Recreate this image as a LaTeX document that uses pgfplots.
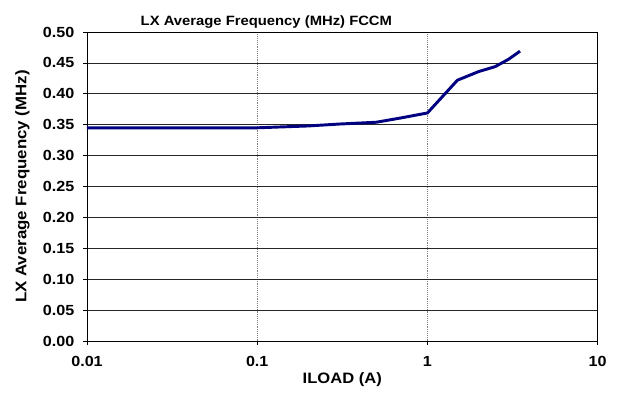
\documentclass[border=0pt]{standalone}
\usepackage{fontspec}
\setmainfont{Liberation Sans}[FakeStretch=1.1]
\usepackage{pgfplots}
\pgfplotsset{compat=1.18}
\definecolor{navyline}{RGB}{0,0,128}
\begin{document}
\begin{tikzpicture}
\path[use as bounding box] (-65.25pt,-39.75pt) rectangle (402pt,255.75pt);
\begin{axis}[
  at={(0,0)}, anchor=south west,
  scale only axis,
  width=383pt, height=231.75pt,
  xmode=log,
  xmin=0.01, xmax=10,
  ymin=0, ymax=0.5,
  xtick={0.01,0.1,1,10},
  xticklabels={0.01,0.1,1,10},
  ytick={0,0.05,...,0.5},
  minor xtick={},
  xminorticks=false,
  /pgf/number format/assume math mode=true,
  yticklabel style={/pgf/number format/fixed, /pgf/number format/fixed zerofill, /pgf/number format/precision=2, xshift=-3pt},
  ticklabel style={font=\fontsize{11}{13}\selectfont\bfseries},
  tick align=outside,
  major tick length=3pt,
  tick style={black, line width=0.5pt},
  xtick pos=bottom, ytick pos=left,
  axis line style={black, line width=0.7pt},
  ymajorgrids, xmajorgrids,
  y grid style={black!85, line width=0.6pt},
  x grid style={gray, densely dotted, line width=0.5pt},
  title={LX Average Frequency (MHz) FCCM},
  title style={font=\fontsize{10.1}{12}\selectfont\bfseries, at={(axis description cs:0.3513,1)}, anchor=south, yshift=-6.8pt},
  xlabel={ILOAD (A)},
  ylabel={LX Average Frequency (MHz)},
  xlabel style={font=\fontsize{11.3}{13}\selectfont\bfseries, yshift=2.5pt},
  ylabel style={font=\fontsize{11.5}{13}\selectfont\bfseries},
  ylabel shift=3pt,
  xticklabel style={yshift=-5pt},
]
\addplot[navyline, line width=2.2pt] coordinates {
  (0.01,0.345) (0.02,0.345) (0.05,0.345) (0.1,0.345) (0.2,0.348) (0.3,0.351)
  (0.5,0.354) (0.7,0.361) (1,0.369) (1.5,0.422) (2,0.436) (2.5,0.444)
  (3,0.456) (3.5,0.469)
};
\end{axis}
\end{tikzpicture}
\end{document}
